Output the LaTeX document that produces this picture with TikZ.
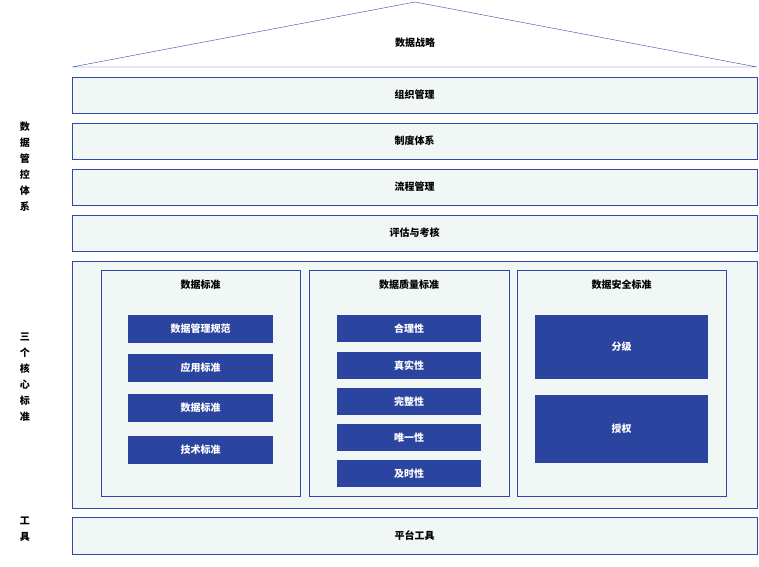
\documentclass[tikz,border=0pt]{standalone}
\usepackage{fontspec}
\setmainfont{Noto Sans CJK SC}
\usetikzlibrary{positioning}
\definecolor{edgeblue}{HTML}{3048A8}
\definecolor{paleg}{HTML}{F0F7F4}
\definecolor{boxblue}{HTML}{2A44A0}
\begin{document}
\begin{tikzpicture}[x=1pt,y=-1pt,
  bar/.style={draw=edgeblue,fill=paleg,font=\bfseries\fontsize{10}{12}\selectfont},
  panel/.style={draw=edgeblue,fill=paleg},
  item/.style={fill=boxblue,text=white,font=\bfseries\fontsize{10}{12}\selectfont},
  title/.style={font=\bfseries\fontsize{10}{12}\selectfont},
  side/.style={font=\bfseries\fontsize{10}{12}\selectfont,align=center,text width=12pt},
]
\useasboundingbox (0,0) rectangle (759,566);
% roof
\draw[edgeblue,fill=white] (72,67) -- (415,2) -- (757,67) -- cycle;
\node[title] (strategy) at (415,43) {数据战略};
% management bars
\foreach \y/\t in {77/组织管理,123/制度体系,169/流程管理,215/评估与考核}
  \draw[bar] (72,\y) rectangle node {\t} (757,\y+36);
% core standards
\draw[panel] (72,261) rectangle (757,508);
\draw[draw=edgeblue,fill=paleg] (101,270) rectangle (300,496);
\draw[draw=edgeblue,fill=paleg] (309,270) rectangle (509,496);
\draw[draw=edgeblue,fill=paleg] (517,270) rectangle (726,496);
\node[title] (std1) at (200.5,285) {数据标准};
\node[title] (std2) at (409,285) {数据质量标准};
\node[title] (std3) at (621.5,285) {数据安全标准};
\foreach \y/\t in {315/数据管理规范,354/应用标准,394/数据标准,436/技术标准}
  \fill[boxblue] (128,\y) rectangle node[item] {\t} (273,\y+28);
\foreach \y/\t in {315/合理性,352/真实性,388/完整性,424/唯一性,460/及时性}
  \fill[boxblue] (337,\y) rectangle node[item] {\t} (481,\y+27);
\fill[boxblue] (535,315) rectangle node[item] {分级} (708,379);
\fill[boxblue] (535,395) rectangle node[item] {授权} (708,463);
% tools
\draw[bar] (72,517) rectangle node {平台工具} (757,554);
% side labels
\node[side] (lab1) at (25,167) {数\\[4pt]据\\[4pt]管\\[4pt]控\\[4pt]体\\[4pt]系};
\node[side] (lab2) at (25,377) {三\\[4pt]个\\[4pt]核\\[4pt]心\\[4pt]标\\[4pt]准};
\node[side] (lab3) at (25,529) {工\\[4pt]具};
\end{tikzpicture}
\end{document}
